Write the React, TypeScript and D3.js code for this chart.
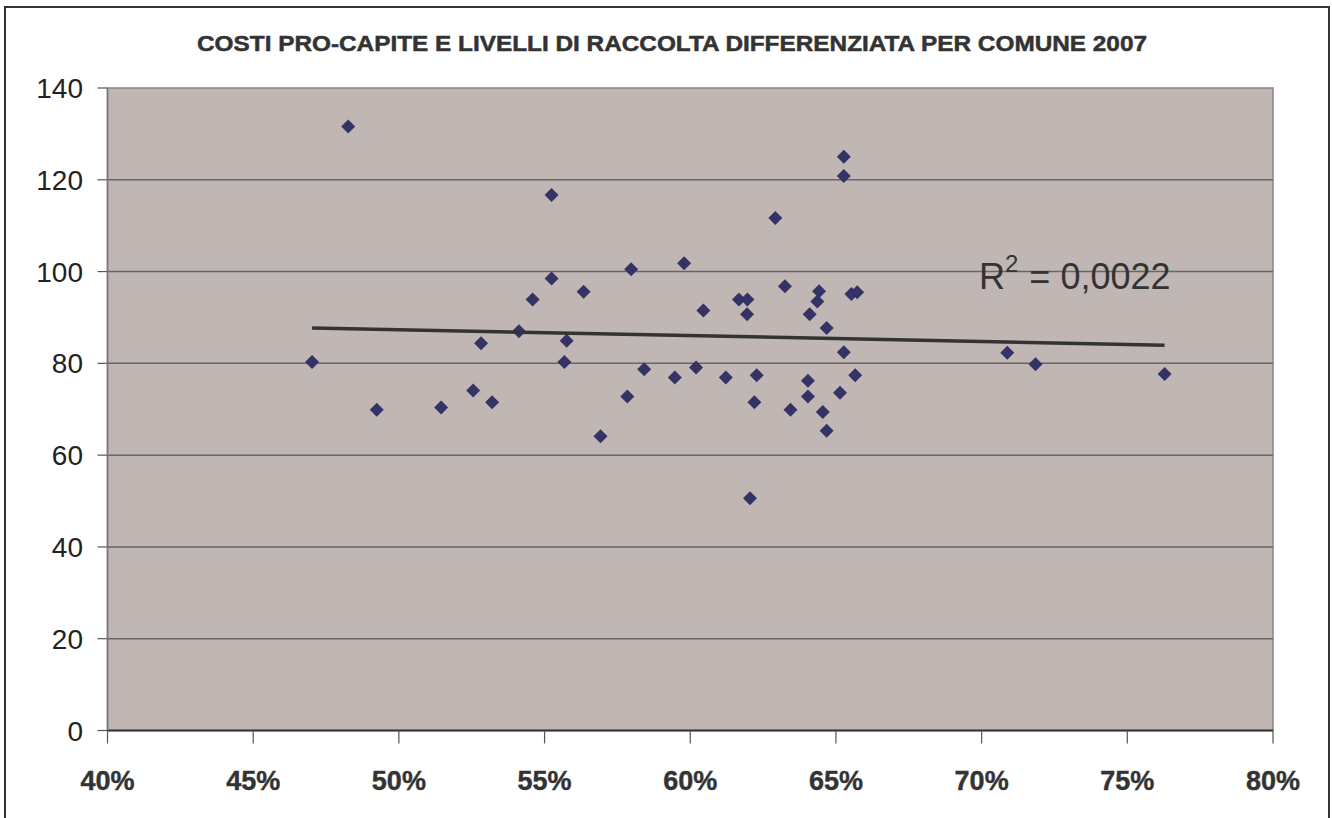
import React from "react";
import * as d3 from "d3";

const TITLE = "COSTI PRO-CAPITE E LIVELLI DI RACCOLTA DIFFERENZIATA PER COMUNE 2007";
const R2_LABEL = "0,0022";

// % raccolta differenziata
const pctValues = [
  47.02, 48.26, 49.24, 51.45, 52.55, 52.82, 53.2, 54.12, 54.59, 55.24,
  55.24, 55.68, 55.76, 56.34, 56.92, 57.84, 57.97, 58.42, 59.47, 59.79,
  60.2, 60.45, 61.22, 61.67, 61.96, 61.95, 62.05, 62.2, 62.28, 62.92,
  63.25, 63.44, 64.04, 64.04, 64.1, 64.36, 64.42, 64.55, 64.68, 64.68,
  65.14, 65.27, 65.27, 65.27, 65.53, 65.66, 65.73, 70.88, 71.85, 76.28,
];
// costo pro-capite
const costValues = [
  80.3, 131.6, 69.9, 70.4, 74.1, 84.4, 71.5, 87.0, 93.9, 116.7,
  98.5, 80.3, 84.9, 95.6, 64.1, 72.8, 100.5, 78.7, 76.9, 101.8,
  79.1, 91.5, 76.9, 93.9, 93.9, 90.7, 50.6, 71.5, 77.4, 111.7,
  96.8, 69.9, 76.2, 72.8, 90.7, 93.5, 95.7, 69.4, 87.7, 65.3,
  73.6, 125.0, 120.8, 82.4, 95.1, 77.4, 95.5, 82.3, 79.8, 77.7,
];

const xTicks = [40, 45, 50, 55, 60, 65, 70, 75, 80];
const yTicks = [0, 20, 40, 60, 80, 100, 120, 140];

export default function App() {
  const W = 1332, H = 818;
  const L = 107.5, R = 1273, T = 88, B = 730.5;
  const x = d3.scaleLinear().domain([40, 80]).range([L, R]);
  const y = d3.scaleLinear().domain([0, 140]).range([B, T]);

  const pts = pctValues.map((p, i) => ({ p, c: costValues[i] }));
  const mx = d3.mean(pctValues)!;
  const my = d3.mean(costValues)!;
  let sxy = 0, sxx = 0;
  pts.forEach((d) => { sxy += (d.p - mx) * (d.c - my); sxx += (d.p - mx) ** 2; });
  const slope = sxy / sxx;
  const icpt = my - slope * mx;
  const [x0, x1] = d3.extent(pctValues) as [number, number];
  const line = d3.line<number>().x((v) => x(v)).y((v) => y(icpt + slope * v));

  const diamond = (cx: number, cy: number, r: number) =>
    `M${cx},${cy - r}L${cx + r},${cy}L${cx},${cy + r}L${cx - r},${cy}Z`;

  return (
    <svg width={W} height={H} style={{ position: "absolute", left: 0, top: 0 }}
      fontFamily="'Liberation Sans', Arial, sans-serif">
      <rect x={0} y={0} width={W} height={H} fill="#ffffff" />
      <path d={`M5,${H + 2}V7H1329V${H + 2}`} fill="none" stroke="#333" strokeWidth={2} />
      <text x={672} y={50.5} textAnchor="middle" fontWeight="bold" fontSize={22.5}
        fill="#333" stroke="#333" strokeWidth={0.5}
        textLength={950} lengthAdjust="spacingAndGlyphs">{TITLE}</text>

      <rect x={L} y={T} width={R - L} height={B - T} fill="#C0B7B4" stroke="#8a8483" strokeWidth={1.5} />
      {yTicks.map((t) => (
        <g key={t}>
          {t > 0 && t < 140 && (
            <line x1={L} x2={R} y1={y(t)} y2={y(t)} stroke="#666" strokeWidth={1.5} />
          )}
          <line x1={L - 10} x2={L} y1={y(t)} y2={y(t)} stroke="#555" strokeWidth={1.2} />
          <text x={83} y={y(t)} dy="0.36em" textAnchor="end" fontSize={28} fill="#222">{t}</text>
        </g>
      ))}
      <line x1={L} x2={R} y1={B} y2={B} stroke="#333" strokeWidth={1.8} />
      <line x1={L} x2={L} y1={T} y2={B} stroke="#777" strokeWidth={1.5} />
      {xTicks.map((t) => (
        <g key={t}>
          <line x1={x(t)} x2={x(t)} y1={B} y2={B + 13} stroke="#555" strokeWidth={1.2} />
          <text x={x(t)} y={790} textAnchor="middle" fontSize={27} fontWeight="bold"
            fill="#333" stroke="#333" strokeWidth={0.4}>{t}%</text>
        </g>
      ))}

      {pts.map((d, i) => (
        <path key={i} d={diamond(x(d.p), y(d.c), 7)} fill="#333366" />
      ))}

      <path d={line([x0, x1]) || ""} fill="none" stroke="#333" strokeWidth={3.5} />

      <text x={979} y={289} fontSize={36} fill="#333">
        R<tspan fontSize={24} dy={-17}>2</tspan><tspan dy={17} dx={1}> = {R2_LABEL}</tspan>
      </text>
    </svg>
  );
}
